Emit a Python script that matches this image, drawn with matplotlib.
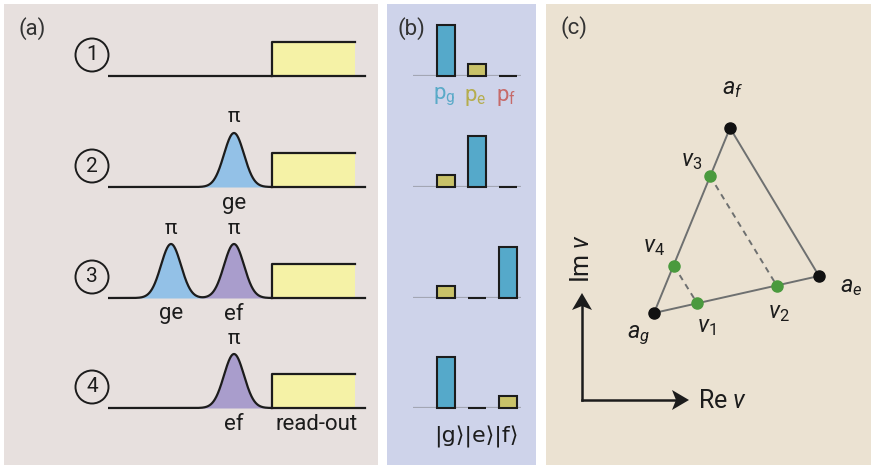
import numpy as np
import matplotlib
matplotlib.use('Agg')
import matplotlib.pyplot as plt
from matplotlib.patches import Rectangle, Circle

plt.rcParams['font.family'] = ['Roboto', 'DejaVu Sans']
plt.rcParams['mathtext.fontset'] = 'custom'
plt.rcParams['mathtext.rm'] = 'Roboto'
plt.rcParams['mathtext.it'] = 'Roboto:italic'
plt.rcParams['mathtext.bf'] = 'Roboto:bold'

# ---------------- data ----------------
step_labels = ['1', '2', '3', '4']
# pulse slots per step (slot 1, slot 2); None = no pulse
step_pulses = [[None, None], [None, 'ge'], ['ge', 'ef'], [None, 'ef']]
pulse_angle = 'π'
readout_label = 'read-out'
# populations p_g, p_e, p_f after each step
populations = [[1.0, 0.24, 0.0],
               [0.24, 1.0, 0.0],
               [0.24, 0.0, 1.0],
               [1.0, 0.0, 0.24]]
pop_labels = [r'$\mathrm{p_g}$', r'$\mathrm{p_e}$', r'$\mathrm{p_f}$']
state_labels = '|g⟩|e⟩|f⟩'
# panel (c): vertices and measured points (drawing coordinates)
a_names = [r'$a_g$', r'$a_e$', r'$a_f$']
a_x = [654, 819, 730]
a_y = [313, 276, 128]
v_names = [r'$v_1$', r'$v_2$', r'$v_3$', r'$v_4$']
v_x = [697, 777, 710, 674]
v_y = [303, 286, 176, 266]

# ---------------- style ----------------
W, H = 872, 467
col_a, col_b, col_c = '#e7e0de', '#ced3ea', '#ebe2d2'
col_ge, col_ef, col_ro = '#93c1e7', '#a99dcc', '#f5f2a6'
col_big, col_small = '#55a9ca', '#c9c269'
pop_colors = ['#5aaac8', '#b5ad4e', '#c66a6a']
ink = '#1c1c1c'

fig = plt.figure(figsize=(W / 100, H / 100), dpi=100)
ax = fig.add_axes([0, 0, 1, 1])
ax.set_xlim(0, W)
ax.set_ylim(H, 0)
ax.axis('off')

for x0, x1, c in [(4, 378, col_a), (387, 536, col_b), (546, 871, col_c)]:
    ax.add_patch(Rectangle((x0, 4), x1 - x0, 461, fc=c, ec='none', zorder=0))

ax.text(32, 29, '(a)', fontsize=16, ha='center', va='center', color='#333333')
ax.text(411, 29, '(b)', fontsize=16, ha='center', va='center', color='#333333')
ax.text(574, 28, '(c)', fontsize=16, ha='center', va='center', color='#333333')

# ---------------- panel (a) ----------------
baselines = [76, 187, 298, 408]
slot_x = [171, 234]
sigma, amp = 10.0, 54
line_x0, line_x1 = 108, 365
ro_x0, ro_x1, ro_h = 272, 355, 34
lw = 1.6
xs = np.linspace(line_x0, ro_x0, 600)
for i, (lab, pulses, yb) in enumerate(zip(step_labels, step_pulses, baselines)):
    ax.add_patch(Circle((92, yb - 21), 16.5, fc='none', ec=ink, lw=1.4))
    ax.text(92, yb - 21, lab, fontsize=15, ha='center', va='center', color=ink)
    prof = np.zeros_like(xs)
    for sx, p in zip(slot_x, pulses):
        if p is None:
            continue
        g = amp * np.exp(-0.5 * ((xs - sx) / sigma) ** 2)
        ax.fill_between(xs, yb, yb - g, where=g > 0.05,
                        color=col_ge if p == 'ge' else col_ef, lw=0, zorder=2)
        prof += g
        ax.text(sx, yb - amp - 16, pulse_angle, fontsize=15, ha='center', va='center', color=ink)
        ax.text(sx, yb + 16, p, fontsize=16, ha='center', va='center', color=ink)
    ax.plot(xs, yb - prof, color=ink, lw=lw, zorder=3, solid_capstyle='butt')
    ax.add_patch(Rectangle((ro_x0, yb - ro_h), ro_x1 - ro_x0, ro_h, fc=col_ro, ec='none', zorder=2))
    ax.plot([ro_x0, ro_x0, ro_x1], [yb, yb - ro_h, yb - ro_h], color=ink, lw=lw, zorder=3)
    ax.plot([ro_x0, line_x1], [yb, yb], color=ink, lw=lw, zorder=3)
ax.text(317, baselines[3] + 16, readout_label, fontsize=16, ha='center', va='center', color=ink)

# ---------------- panel (b) ----------------
bx0, bx1 = 413, 521
bar_px = 51
centers_px = np.array([446, 477, 508])
spacing = 31.0
for pops, yb in zip(populations, baselines):
    bax = fig.add_axes([bx0 / W, (H - yb) / H, (bx1 - bx0) / W, bar_px / H])
    bax.set_facecolor('none')
    bax.axis('off')
    bax.set_xlim((bx0 - centers_px[0]) / spacing, (bx1 - centers_px[0]) / spacing)
    bax.set_ylim(0, 1)
    bax.axhline(0, color='#a3a6b4', lw=1.6, zorder=1)
    cols = [col_big if v > 0.5 else col_small for v in pops]
    bax.bar(range(3), pops, width=18 / spacing, color=cols, edgecolor=ink,
            linewidth=1.5, zorder=2, clip_on=False)
for k, (lab, c) in enumerate(zip(pop_labels, pop_colors)):
    ax.text(centers_px[k] - 2, 97, lab, fontsize=16, ha='center', va='center', color=c)
ax.text(476, 437, state_labels, fontsize=16, ha='center', va='center', color=ink,
        family=['DejaVu Sans'])

# ---------------- panel (c) ----------------
tri_x = a_x + [a_x[0]]
tri_y = a_y + [a_y[0]]
ax.plot(tri_x, tri_y, color='#6e7070', lw=1.4, zorder=2)
ax.plot([v_x[2], v_x[1]], [v_y[2], v_y[1]], color='#6e7070', lw=1.4, ls=(0, (3, 2.5)), zorder=2)
ax.plot([v_x[3], v_x[0]], [v_y[3], v_y[0]], color='#6e7070', lw=1.4, ls=(0, (3, 2.5)), zorder=2)
ax.plot(a_x, a_y, 'o', color='#111111', ms=8, zorder=3)
ax.plot(v_x, v_y, 'o', color='#4a9a3e', ms=8, zorder=3)

a_lab_pos = [(639, 335), (851, 286), (733, 88)]
for name, (tx, ty) in zip(a_names, a_lab_pos):
    ax.text(tx, ty, name, fontsize=17, ha='center', va='center', color=ink)
v_lab_pos = [(706, 327), (779, 312), (692, 160), (654, 246)]
for name, (tx, ty) in zip(v_names, v_lab_pos):
    ax.text(tx, ty, name, fontsize=17, ha='center', va='center', color=ink)

# axes arrows
ox, oy = 582, 400
ax.plot([ox, ox], [oy, 305], color=ink, lw=1.8, solid_capstyle='projecting')
ax.plot([ox, 676], [oy, oy], color=ink, lw=1.8, solid_capstyle='projecting')
ax.fill([ox - 10, ox, ox + 10, ox], [310, 293, 310, 306], color=ink, lw=0)
ax.fill([672, 689, 672, 676], [oy - 10, oy, oy + 10, oy], color=ink, lw=0)
ax.text(698, 401, r'Re $v$', fontsize=18, ha='left', va='center', color=ink)
ax.text(582, 258, r'Im $v$', fontsize=18, ha='center', va='center', rotation=90, color=ink)

fig.savefig('out.png', dpi=100, facecolor='white')
